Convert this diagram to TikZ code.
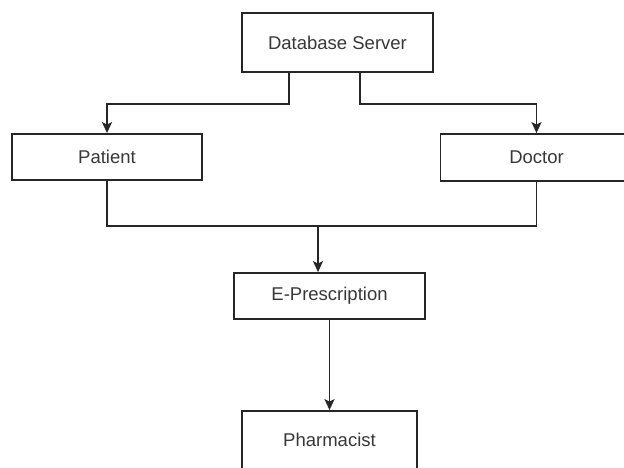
\documentclass[tikz,border=0pt]{standalone}
\usepackage{fontspec}
\setmainfont{Liberation Sans}
\usetikzlibrary{arrows.meta}
\begin{document}
\begin{tikzpicture}[x=1pt,y=-1pt,
  box/.style={draw=black!85, line width=1.8pt, fill=white, inner sep=0pt,
    text=black!78, font=\fontsize{18.5}{22}\selectfont},
  conn/.style={draw=black!85, line width=1.8pt},
  arr/.style={conn, -{Stealth[length=11pt,width=10pt,inset=2.5pt]}}]
\useasboundingbox (0,0) rectangle (624,467);
\clip (0,0) rectangle (624,467);
\fill[white] (0,0) rectangle (624,467);
\node[box, minimum width=191pt, minimum height=59pt] (db) at (337.5,42.5) {Database Server};
\node[box, minimum width=190pt, minimum height=46pt] (pat) at (107,157) {Patient};
\node[box, minimum width=192pt, minimum height=47pt] (doc) at (536.5,157.5) {Doctor};
\node[box, minimum width=191pt, minimum height=46pt] (eps) at (329.5,296) {E-Prescription};
\node[box, minimum width=175pt, minimum height=58pt] (ph) at (329.5,440) {Pharmacist};
\draw[arr] ([xshift=48pt]db.south west) -- ++(0,31) -| (pat.north);
\draw[arr] ([xshift=119pt]db.south west) -- ++(0,31) -| (doc.north);
\coordinate (j) at (318,226);
\draw[conn] (pat.south) |- (j) -| (doc.south);
\draw[arr] (j) -- (j |- eps.north);
\draw[arr] (eps.south) -- (ph.north);
\end{tikzpicture}
\end{document}
